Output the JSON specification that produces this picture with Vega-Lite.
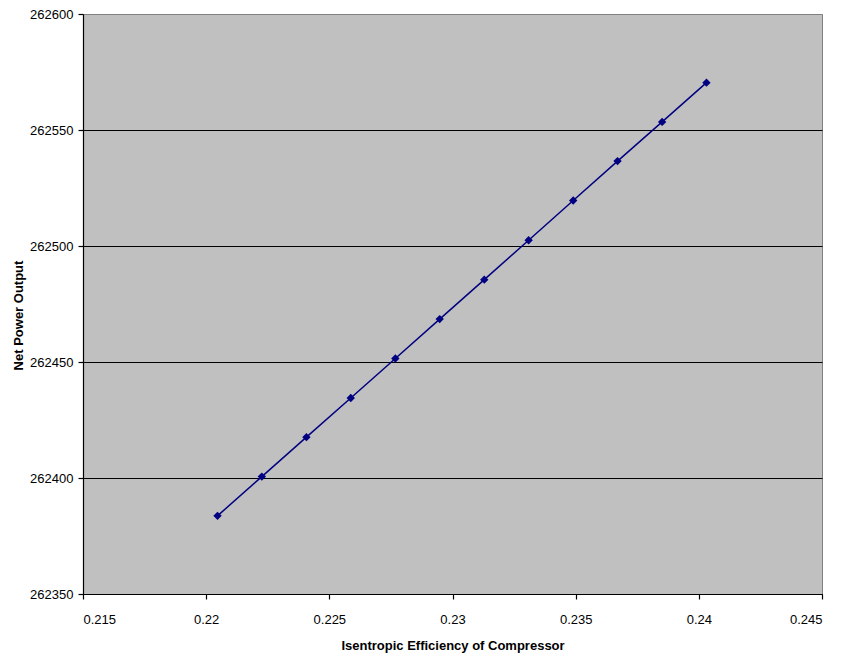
{
  "$schema": "https://vega.github.io/schema/vega-lite/v6.json",
  "width": 739,
  "height": 580,
  "autosize": {"type": "none"},
  "padding": {"left": 83, "top": 14, "right": 22, "bottom": 65},
  "background": "white",
  "config": {
    "view": {"fill": "#C0C0C0", "stroke": "#808080", "strokeWidth": 1},
    "font": "Liberation Sans",
    "axis": {
      "labelFont": "Liberation Sans",
      "labelFontSize": 13,
      "labelColor": "black",
      "titleFont": "Liberation Sans",
      "titleFontSize": 13,
      "titleFontWeight": "bold",
      "titleColor": "black",
      "domainColor": "black",
      "domainWidth": 1.2,
      "tickColor": "black",
      "tickWidth": 1.2,
      "tickSize": 5
    }
  },
  "data": {
    "values": [
      {"efficiency": 0.22046, "power": 262383.7},
      {"efficiency": 0.22226, "power": 262400.6},
      {"efficiency": 0.22407, "power": 262417.6},
      {"efficiency": 0.22587, "power": 262434.5},
      {"efficiency": 0.22768, "power": 262451.5},
      {"efficiency": 0.22948, "power": 262468.5},
      {"efficiency": 0.23129, "power": 262485.5},
      {"efficiency": 0.23309, "power": 262502.5},
      {"efficiency": 0.23490, "power": 262519.6},
      {"efficiency": 0.23670, "power": 262536.6},
      {"efficiency": 0.23851, "power": 262553.5},
      {"efficiency": 0.24031, "power": 262570.4}
    ]
  },
  "encoding": {
    "x": {
      "field": "efficiency",
      "type": "quantitative",
      "title": "Isentropic Efficiency of Compressor",
      "scale": {"domain": [0.215, 0.245], "nice": false, "zero": false},
      "axis": {
        "values": [0.215, 0.22, 0.225, 0.23, 0.235, 0.24, 0.245],
        "format": "~g",
        "grid": false,
        "labelPadding": 14,
        "titleX": 369.5,
        "titleY": 51,
        "titleBaseline": "middle",
        "titleAnchor": null
      }
    },
    "y": {
      "field": "power",
      "type": "quantitative",
      "title": "Net Power Output",
      "scale": {"domain": [262350, 262600], "nice": false, "zero": false},
      "axis": {
        "values": [262350, 262400, 262450, 262500, 262550, 262600],
        "format": "d",
        "grid": true,
        "gridColor": {"condition": {"test": "datum.value >= 262600", "value": "#808080"}, "value": "black"},
        "gridWidth": 1,
        "gridOpacity": 1,
        "labelPadding": 5,
        "titleAngle": -90,
        "titleX": -65,
        "titleY": 301,
        "titleAlign": "center",
        "titleBaseline": "middle",
        "titleAnchor": null
      }
    }
  },
  "layer": [
    {"mark": {"type": "line", "color": "#000080", "strokeWidth": 1.5}},
    {"mark": {"type": "point", "shape": "diamond", "filled": true, "color": "#000080", "size": 70, "opacity": 1}}
  ]
}
